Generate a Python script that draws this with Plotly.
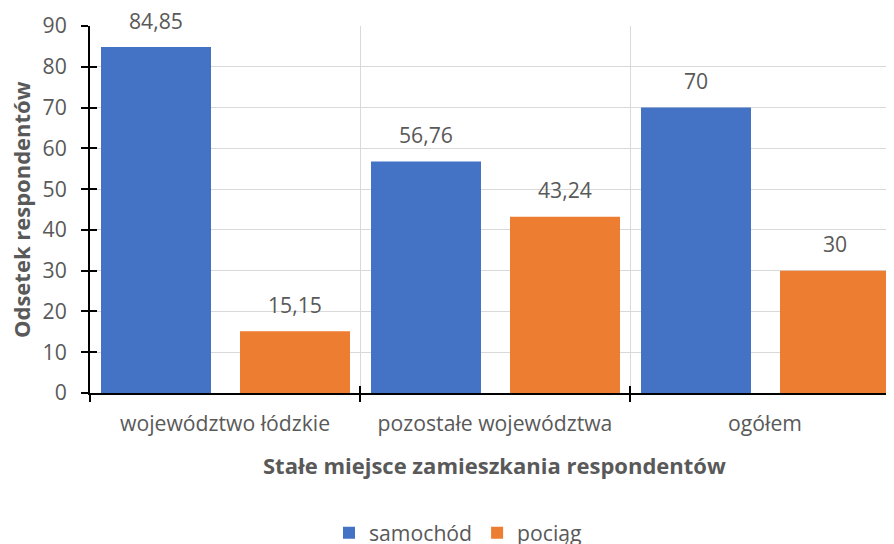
import plotly.graph_objects as go

categories = ["województwo łódzkie", "pozostałe województwa", "ogółem"]
samochod = [84.85, 56.76, 70]
pociag = [15.15, 43.24, 30]
series_names = ["samochód", "pociąg"]
y_ticks = [0, 10, 20, 30, 40, 50, 60, 70, 80, 90]
x_title = "Stałe miejsce zamieszkania respondentów"
y_title = "Odsetek respondentów"


def fmt(v):
    s = ("%.2f" % v).rstrip("0").rstrip(".")
    return s.replace(".", ",")


FONT = "Open Sans"
GRAY = "#595959"
FS = 21.2
TFS = 22
CAT_PX = 270.0
BW = 110 / CAT_PX
OFF_BLUE = -124 / CAT_PX
OFF_ORANGE = 15 / CAT_PX
# plot area in figure pixels (page has an 8 px body margin)
L, T, B = 82, 18, 385
W = 886 - L
H = B - T

fig = go.Figure()
fig.add_trace(go.Bar(
    x=categories, y=samochod, name=series_names[0],
    marker=dict(color="#4472C4", line=dict(width=0)),
    width=BW, offset=OFF_BLUE, hoverinfo="x+y",
))
fig.add_trace(go.Bar(
    x=categories, y=pociag, name=series_names[1],
    marker=dict(color="#ED7D31", line=dict(width=0)),
    width=BW, offset=OFF_ORANGE, hoverinfo="x+y",
))
# invisible trace for the overlay axes that draw the inner half of cross ticks
fig.add_trace(go.Bar(
    x=categories, y=samochod, xaxis="x2", yaxis="y2",
    marker=dict(opacity=0), showlegend=False, hoverinfo="skip",
))

annotations = []
for vals, off in ((samochod, OFF_BLUE), (pociag, OFF_ORANGE)):
    for c, v in zip(categories, vals):
        annotations.append(dict(
            x=c, y=v, xref="x", yref="y", text=fmt(v), showarrow=False,
            xshift=(off + BW / 2) * CAT_PX, yshift=27, yanchor="middle",
            font=dict(family=FONT, size=FS, color=GRAY),
        ))
annotations.append(dict(
    x=(487 - L) / W, y=(B - 457) / H, xref="paper", yref="paper",
    text="<b>%s</b>" % x_title, showarrow=False,
    xanchor="center", yanchor="middle",
    font=dict(family=FONT, size=TFS, color=GRAY),
))
annotations.append(dict(
    x=(13 - L) / W, y=(B - 202) / H, xref="paper", yref="paper",
    text="<b>%s</b>" % y_title, showarrow=False, textangle=-90,
    xanchor="center", yanchor="middle",
    font=dict(family=FONT, size=TFS, color=GRAY),
))

xr = [-0.5, -0.5 + W / CAT_PX]
fig.update_layout(
    width=886, height=536,
    margin=dict(l=L, r=0, t=T, b=536 - B, autoexpand=False),
    paper_bgcolor="white", plot_bgcolor="white",
    barmode="overlay",
    font=dict(family=FONT, size=FS, color=GRAY),
    showlegend=True,
    annotations=annotations,
    legend=dict(orientation="h", x=(321 - L) / W, xref="paper", xanchor="left",
                y=(B - 525) / H, yanchor="middle",
                font=dict(family=FONT, size=FS, color=GRAY),
                itemwidth=30, traceorder="normal", tracegroupgap=0),
    xaxis=dict(
        type="category", categoryorder="array", categoryarray=categories,
        range=xr, tickson="boundaries", ticks="outside", ticklen=7,
        tickwidth=2, tickcolor="black", automargin=False,
        showline=True, linecolor="black", linewidth=2,
        showgrid=True, gridcolor="#d9d9d9", gridwidth=1,
        tickfont=dict(family=FONT, size=FS, color=GRAY),
        ticklabelstandoff=11,
        zeroline=False,
    ),
    yaxis=dict(
        range=[0, 90], tickvals=y_ticks, ticks="outside", ticklen=7,
        tickwidth=2, tickcolor="black", automargin=False,
        showline=True, linecolor="black", linewidth=2,
        showgrid=True, gridcolor="#d9d9d9", gridwidth=1,
        tickfont=dict(family=FONT, size=FS, color=GRAY),
        ticklabelstandoff=10,
        zeroline=False,
    ),
    xaxis2=dict(
        type="category", categoryorder="array", categoryarray=categories,
        overlaying="x", range=xr, tickson="boundaries", ticks="inside",
        ticklen=7, tickwidth=2, tickcolor="black", automargin=False,
        showticklabels=False, showgrid=False, showline=False, zeroline=False,
    ),
    yaxis2=dict(
        overlaying="y", side="left", range=[0, 90], tickvals=y_ticks,
        ticks="inside", ticklen=7, tickwidth=2, tickcolor="black", automargin=False,
        showticklabels=False, showgrid=False, showline=False, zeroline=False,
    ),
)
fig.write_html("out.html")
